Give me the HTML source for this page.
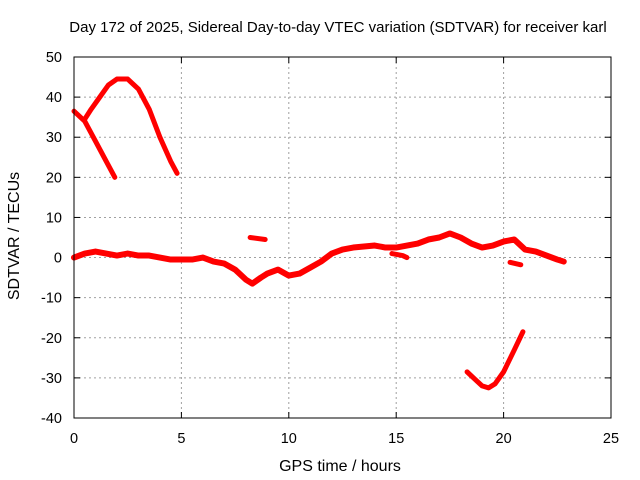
<!DOCTYPE html>
<html><head><meta charset="utf-8"><style>
body{margin:0;background:#fff}
svg{display:block;font-family:"Liberation Sans",sans-serif}
</style></head><body>
<svg id="chart" width="640" height="480">
<text x="338" y="32" text-anchor="middle" font-size="15">Day 172 of 2025, Sidereal Day-to-day VTEC variation (SDTVAR) for receiver karl</text>
<text x="340" y="471" text-anchor="middle" font-size="16">GPS time / hours</text>
<text transform="translate(19,236) rotate(-90)" text-anchor="middle" font-size="16">SDTVAR / TECUs</text>
<g id="grid"></g><g id="ticks"></g><g id="series"></g>
<rect x="74" y="57" width="537" height="361" fill="none" stroke="#000"/>
</svg>
<script>
const xTicks=[0,5,10,15,20,25];
const yTicks=[50,40,30,20,10,0,-10,-20,-30,-40];
const segA_x=[0,0.5,1,1.5,1.9];
const segA_y=[36.5,34,29,24,20];
const segB_x=[0.5,0.8,1.2,1.6,2,2.5,3,3.5,4,4.5,4.8];
const segB_y=[34.5,37,40,43,44.5,44.5,42,37,30,24,21];
const main_x=[0,0.5,1,1.5,2,2.5,3,3.5,4,4.5,5,5.5,6,6.5,7,7.5,8,8.3,8.7,9,9.5,10,10.5,11,11.5,12,12.5,13,14,14.5,15,15.5,16,16.5,17,17.5,18,18.5,19,19.5,20,20.5,21,21.5,22,22.5,22.8];
const main_y=[0,1,1.5,1,0.5,1,0.5,0.5,0,-0.5,-0.5,-0.5,0,-1,-1.5,-3,-5.5,-6.5,-5,-4,-3,-4.5,-4,-2.5,-1,1,2,2.5,3,2.5,2.5,3,3.5,4.5,5,6,5,3.5,2.5,3,4,4.5,2,1.5,0.5,-0.5,-1];
const segC_x=[8.2,8.9];
const segC_y=[5,4.5];
const segD_x=[14.8,15.3,15.5];
const segD_y=[1,0.5,0];
const segE_x=[20.3,20.8];
const segE_y=[-1.2,-1.8];
const segF_x=[18.3,18.7,19,19.3,19.6,20,20.5,20.9];
const segF_y=[-28.5,-30.5,-32,-32.5,-31.5,-28.5,-23,-18.5];
const X=v=>74+v*537/25, Y=v=>57+(50-v)*361/90;
const NS="http://www.w3.org/2000/svg";
const grid=document.getElementById('grid'),ticks=document.getElementById('ticks'),ser=document.getElementById('series');
function mk(p,t,a){const e=document.createElementNS(NS,t);for(const k in a)e.setAttribute(k,a[k]);p.appendChild(e);return e;}
xTicks.forEach(t=>{const x=X(t);
 if(t>0&&t<25){const g=mk(grid,'line',{x1:x,x2:x,y1:57,y2:418,stroke:'#a0a0a0','stroke-dasharray':'2,3'});
 
 }
 mk(ticks,'line',{x1:x,x2:x,y1:418,y2:412,stroke:'#000'});mk(ticks,'line',{x1:x,x2:x,y1:57,y2:63,stroke:'#000'});
 const l=mk(ticks,'text',{x:x,y:443,'text-anchor':'middle','font-size':'14.5'});l.textContent=t;
 
 });
yTicks.forEach(t=>{const y=Y(t);
 if(t<50&&t>-40){const g=mk(grid,'line',{x1:74,x2:611,y1:y,y2:y,stroke:'#a0a0a0','stroke-dasharray':'2,3'});
 
 }
 mk(ticks,'line',{x1:74,x2:80,y1:y,y2:y,stroke:'#000'});mk(ticks,'line',{x1:605,x2:611,y1:y,y2:y,stroke:'#000'});
 const l=mk(ticks,'text',{x:62,y:y+5,'text-anchor':'end','font-size':'14.5'});l.textContent=t;
 
 });
[[segA_x,segA_y,'arc-a'],[segB_x,segB_y,'arc-b'],[main_x,main_y,'main-band'],[segC_x,segC_y,'arc-c'],[segD_x,segD_y,'arc-d'],[segE_x,segE_y,'arc-e'],[segF_x,segF_y,'arc-f']].forEach(([xs,ys,n])=>{
 const pts=xs.map((v,i)=>X(v)+','+Y(ys[i])).join(' ');
 const p=mk(ser,'polyline',{points:pts,fill:'none',stroke:'#f00','stroke-width':n==='main-band'?6:5,'stroke-linejoin':'round','stroke-linecap':'round'});
 
 
});
</script>
</body></html>
